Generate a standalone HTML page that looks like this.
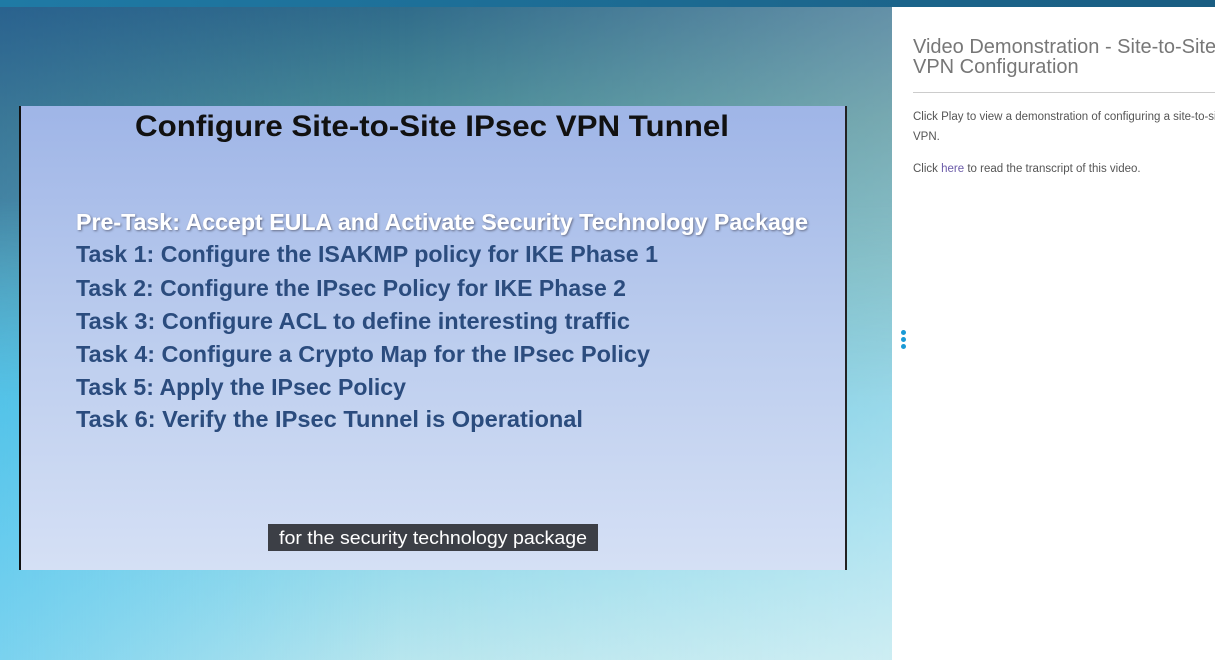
<!DOCTYPE html>
<html><head><meta charset="utf-8"><style>
body{margin:0;width:1215px;height:660px;overflow:hidden;position:relative;font-family:"Liberation Sans",sans-serif;}
#bg{position:absolute;left:0;top:0;width:892px;height:660px;background:linear-gradient(180deg,#2f6a8a 0%,#4a8d98 18%,#62aeba 40%,#6ec9e2 62%,#8fd8eb 80%,#b8e6ee 100%);}
#bg2{position:absolute;left:0;top:0;width:892px;height:660px;background:linear-gradient(90deg,rgba(30,80,150,.35) 0%,rgba(0,0,0,0) 45%,rgba(255,255,255,.25) 100%);-webkit-mask-image:linear-gradient(180deg,#000 0%,#000 30%,transparent 60%);mask-image:linear-gradient(180deg,#000 0%,#000 30%,transparent 60%);}
#bg3{position:absolute;left:0;top:0;width:892px;height:660px;background:linear-gradient(90deg,rgba(60,190,240,.5) 0%,rgba(0,0,0,0) 45%,rgba(255,255,255,.3) 100%);-webkit-mask-image:linear-gradient(180deg,transparent 30%,#000 60%);mask-image:linear-gradient(180deg,transparent 30%,#000 60%);}
#top{position:absolute;left:0;top:0;width:1215px;height:7px;background:linear-gradient(90deg,#1f7aa5,#1a5d82);}
#panel{position:absolute;left:892px;top:7px;width:323px;height:653px;background:#fff;}
h1{position:absolute;left:913px;top:37px;margin:0;font-weight:normal;font-size:20px;line-height:20px;color:#777;white-space:nowrap;}
#hr{position:absolute;left:913px;top:92px;width:302px;height:1px;background:#ccc;}
.p{position:absolute;left:913px;font-size:11.5px;color:#555;white-space:nowrap;}
.d{position:absolute;left:901px;width:5px;height:5px;border-radius:50%;background:#1a9ad6;}
</style></head><body>
<div id="bg"></div><div id="bg2"></div><div id="bg3"></div><div id="top"></div>
<svg style="position:absolute;left:0;top:0" width="892" height="660">
<defs><linearGradient id="v" x1="0" y1="0" x2="0" y2="1"><stop offset="0" stop-color="#9fb5e7"/><stop offset="0.5" stop-color="#bccdee"/><stop offset="1" stop-color="#d5e0f5"/></linearGradient>
<filter id="s"><feDropShadow dx="1" dy="1" stdDeviation="1" flood-color="#334" flood-opacity=".6"/></filter></defs>
<rect x="19" y="106" width="828" height="464" fill="url(#v)"/>
<rect x="19" y="106" width="2" height="464" fill="#111"/>
<rect x="845" y="106" width="2" height="464" fill="#222"/>
<g font-family="Liberation Sans,sans-serif" font-weight="bold">
<text x="135" y="136" font-size="30" fill="#111" textLength="594" lengthAdjust="spacingAndGlyphs">Configure Site-to-Site IPsec VPN Tunnel</text>
<text x="76" y="230" font-size="23" fill="#fff" filter="url(#s)" textLength="732" lengthAdjust="spacingAndGlyphs">Pre-Task: Accept EULA and Activate Security Technology Package</text>
<g fill="#2b4c7e" font-size="23">
<text x="76" y="262" textLength="582" lengthAdjust="spacingAndGlyphs">Task 1: Configure the ISAKMP policy for IKE Phase 1</text>
<text x="76" y="296" textLength="550" lengthAdjust="spacingAndGlyphs">Task 2: Configure the IPsec Policy for IKE Phase 2</text>
<text x="76" y="329" textLength="554" lengthAdjust="spacingAndGlyphs">Task 3: Configure ACL to define interesting traffic</text>
<text x="76" y="362" textLength="574" lengthAdjust="spacingAndGlyphs">Task 4: Configure a Crypto Map for the IPsec Policy</text>
<text x="76" y="395" textLength="330" lengthAdjust="spacingAndGlyphs">Task 5: Apply the IPsec Policy</text>
<text x="76" y="427" textLength="507" lengthAdjust="spacingAndGlyphs">Task 6: Verify the IPsec Tunnel is Operational</text>
</g></g>
<rect x="268" y="524" width="330" height="27" fill="#3c3f46"/>
<text x="279" y="544" font-family="Liberation Sans,sans-serif" font-size="18" fill="#fff" textLength="308" lengthAdjust="spacingAndGlyphs">for the security technology package</text>
</svg>
<div id="panel"></div>
<h1>Video Demonstration - Site-to-Site<br>VPN Configuration</h1>
<div id="hr"></div>
<div class="p" style="top:111px">Click Play to view a demonstration of configuring a site-to-site</div>
<div class="p" style="top:131px">VPN.</div>
<div class="p" style="top:163px">Click <span style="color:#6a5aa8">here</span> to read the transcript of this video.</div>
<div class="d" style="top:330px"></div><div class="d" style="top:337px"></div><div class="d" style="top:344px"></div>
</body></html>
